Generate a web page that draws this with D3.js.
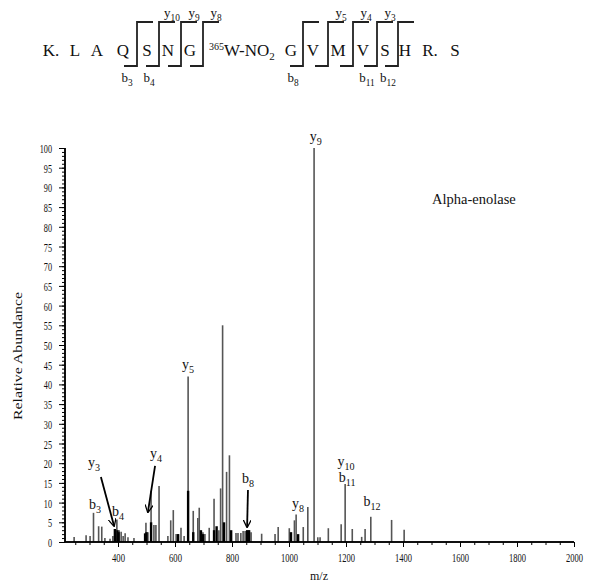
<!DOCTYPE html>
<html><head><meta charset="utf-8">
<script src="https://cdn.jsdelivr.net/npm/d3@7"></script>
<style>
html,body{margin:0;padding:0;background:#fff;}
svg text{font-family:"Liberation Serif","DejaVu Serif",serif;fill:#111;}
</style></head>
<body><svg id="c" width="592" height="582"></svg>
<script>
// ---- data ----
const peakMz = [246,288,302,314,332,343,354,372,382,396,404,411,418,425,435,456,498,505,516,526,533,544,575,585,594,604,611,621,632,646,664,680,685,698,705,720,737,754,760,767,781,791,814,821,831,839,846,853,860,867,904,951,962,1001,1019,1025,1050,1066,1088,1101,1109,1138,1183,1197,1222,1255,1267,1287,1360,1404];
const peakAb = [1.3,1.7,1.5,7.4,4.0,3.9,1.0,0.8,1.5,5.7,3.0,2.6,1.5,2.2,1.2,1.0,4.9,2.5,13.0,4.3,4.3,14.2,1.5,5.5,8.1,2.0,2.0,3.6,1.5,42,7.9,6.1,8.7,2.5,2.0,3.6,11,3.0,13.6,55,17.8,22,2.3,2.3,2.3,2.8,2.8,3.0,3.0,2.5,2.1,2.0,3.8,3.5,5.5,7.0,3.8,8.9,100,1.2,1.2,3.5,4.5,14.7,3.3,1.3,3.3,6.4,5.6,3.1];
// darker (black) overlapping peaks
const darkMz = [389,398,402,495,500,516,611,646,664,691,698,737,746,772,797,853,860,1007,1032];
const darkAb = [3.3,3.0,2.5,2.2,2.5,5.0,2.0,13,2.5,3.0,2.0,3.0,4.0,5.0,3.0,3.0,3.0,2.5,2.0];

const xTicks = [400,600,800,1000,1200,1400,1600,1800,2000];
const yTicks = d3.range(0,101,5);

// ion annotations: [ion, subscript, m/z, abundance of text baseline]
const ionLabels = [
  ["y","3",316,19.0],["b","3",319,8.4],["b","4",400,6.6],["y","4",533,21.3],
  ["y","5",646,44.0],["b","8",856,15.0],["y","8",1032,8.6],["y","9",1094,101.8],
  ["y","10",1200,19.3],["b","11",1204,15.2],["b","12",1291,9.1]
];
// arrows: [mz from, ab from, mz to, ab to]
const arrows = [[340,16.5,386,4.1],[530,19.3,505,7.6],[856,13.2,853,3.8]];

// peptide sequence diagram
const seq = ["K.","L","A","Q","S","N","G","W","G","V","M","V","S","H","R.","S"];
const seqX = [51,75,97,123,147,168,190,0,291,313,338,363,385,405,430,455];
// cleavage brackets: [x of cleavage, top label, bottom label]
const cleav = [[137,"",["b","3"]],[159,["y","10"],["b","4"]],[181,["y","9"],null],[203,["y","8"],null],
  [303,null,["b","8"]],[328,["y","5"],null],[353,["y","4"],null],[377,["y","3"],["b","11"]],[398,null,["b","12"]]];

// ---- drawing ----
const svg = d3.select("#c");
const x = d3.scaleLinear().domain([214,2000]).range([65,574]);
const y = d3.scaleLinear().domain([0,100]).range([542,148]);

function ionText(g, px, py, letter, sub, size, anchor){
  const t = g.append("text").attr("x",px).attr("y",py).attr("text-anchor",anchor||"middle")
    .style("font-size",size+"px");
  t.append("tspan").text(letter);
  t.append("tspan").attr("dy",size*0.28).style("font-size",(size*0.72)+"px").text(sub);
  return t;
}

// peaks
svg.append("g").selectAll("line").data(peakMz.map((m,i)=>[m,peakAb[i]])).join("line")
  .attr("x1",d=>x(d[0])).attr("x2",d=>x(d[0])).attr("y1",y(0)).attr("y2",d=>y(d[1]))
  .attr("stroke","#555").attr("stroke-width",1.6);
svg.append("g").selectAll("line").data(darkMz.map((m,i)=>[m,darkAb[i]])).join("line")
  .attr("x1",d=>x(d[0])).attr("x2",d=>x(d[0])).attr("y1",y(0)).attr("y2",d=>y(d[1]))
  .attr("stroke","#000").attr("stroke-width",2.4);

// axes
const xAxis = svg.append("g").attr("transform",`translate(0,${y(0)})`);
xAxis.call(d3.axisBottom(x).tickValues(d3.range(250,2001,50)).tickSize(3).tickFormat(""));
xAxis.append("g").call(d3.axisBottom(x).tickValues(xTicks).tickSize(5).tickFormat(d3.format("d")));
xAxis.selectAll("path.domain").attr("d",`M${x(214)},0H${x(2000)}`).attr("stroke","#000").attr("stroke-width",1.5);
xAxis.selectAll("text").attr("dy","0.95em").style("font-size","12.5px").attr("fill","#111")
  .attr("textLength",d=>String(d).length*4+1).attr("lengthAdjust","spacingAndGlyphs");

const yAxis = svg.append("g").attr("transform",`translate(${x(214)},0)`);
yAxis.call(d3.axisLeft(y).tickValues(d3.range(0,101,1)).tickSize(3).tickFormat(""));
yAxis.append("g").call(d3.axisLeft(y).tickValues(yTicks).tickSize(6).tickFormat(d3.format("d")));
yAxis.selectAll("path.domain").attr("d",`M0,${y(0)}V${y(100)}`).attr("stroke","#000").attr("stroke-width",1.5);
yAxis.selectAll("text").style("font-size","12.5px").attr("fill","#111").attr("dx","-4").attr("dy","0.36em")
  .attr("textLength",d=>String(d).length*4.1).attr("lengthAdjust","spacingAndGlyphs");
svg.selectAll(".tick line").attr("stroke","#000");

svg.append("text").attr("transform","translate(22,356) rotate(-90)").attr("text-anchor","middle")
  .style("font-size","12.5px").attr("textLength",128).attr("lengthAdjust","spacingAndGlyphs").text("Relative Abundance");
svg.append("text").attr("x",319).attr("y",580).attr("text-anchor","middle").style("font-size","12px").text("m/z");

// ion labels
const lab = svg.append("g");
ionLabels.forEach(d=>ionText(lab, x(d[2]), y(d[3]), d[0], d[1], 14));

// arrows
const defs = svg.append("defs");
defs.append("marker").attr("id","ah").attr("viewBox","0 0 10 10").attr("refX",9).attr("refY",5)
  .attr("markerWidth",8).attr("markerHeight",8).attr("orient","auto").attr("markerUnits","userSpaceOnUse")
  .append("path").attr("d","M0,0L10,5L0,10").attr("fill","none").attr("stroke","#000").attr("stroke-width",1.6);
svg.append("g").selectAll("line").data(arrows).join("line")
  .attr("x1",d=>x(d[0])).attr("y1",d=>y(d[1])).attr("x2",d=>x(d[2])).attr("y2",d=>y(d[3]))
  .attr("stroke","#000").attr("stroke-width",1.8).attr("marker-end","url(#ah)");

svg.append("text").attr("x",x(1502)).attr("y",y(85.8)).style("font-size","14.5px").text("Alpha-enolase");

// peptide diagram
const pep = svg.append("g");
seq.forEach((s,i)=>{
  if(s==="W"){
    const t = pep.append("text").attr("x",209).attr("y",56).style("font-size","17px");
    t.append("tspan").attr("dy",-6).style("font-size","10px").text("365");
    t.append("tspan").attr("dy",6).text("W-NO");
    t.append("tspan").attr("dy",4).style("font-size","11px").text("2");
  } else {
    pep.append("text").attr("x",seqX[i]).attr("y",56).attr("text-anchor","middle").style("font-size","17px").text(s);
  }
});
cleav.forEach(c=>{
  const cx=c[0];
  pep.append("path").attr("d",`M${cx-13},66H${cx}V22H${cx+16}`).attr("fill","none").attr("stroke","#222").attr("stroke-width",1.8);
  if(c[1]) ionText(pep, cx+13, 17, c[1][0], c[1][1], 13);
  if(c[2]) ionText(pep, cx-10, 82, c[2][0], c[2][1], 13);
});
</script></body></html>
